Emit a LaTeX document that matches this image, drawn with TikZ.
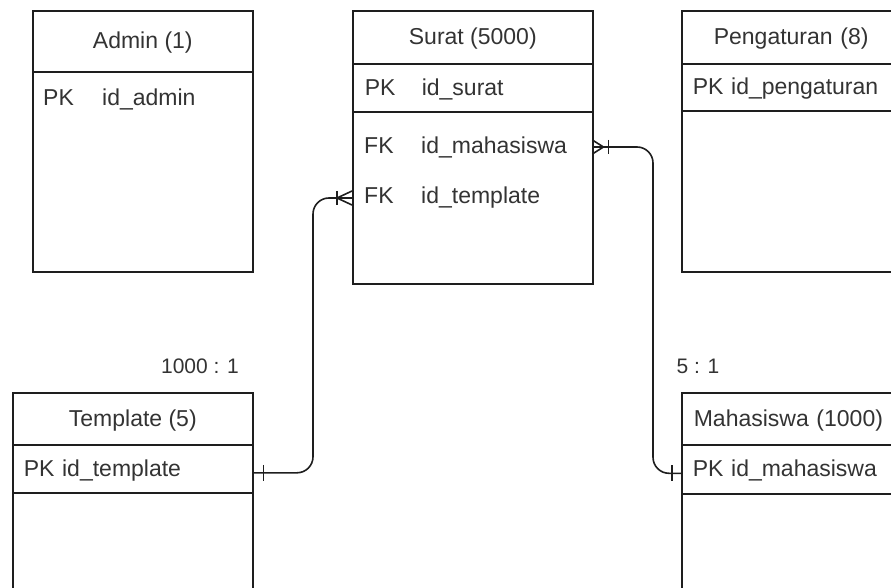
\documentclass[tikz,border=0pt]{standalone}
\usepackage{fontspec}
\setmainfont{Liberation Sans}
\definecolor{edgegray}{HTML}{1E1E1E}
\definecolor{textgray}{HTML}{333333}

\tikzstyle{tblbox}=[draw=edgegray, line width=1.6pt, anchor=north west, inner sep=0pt]
\tikzstyle{tblhead}=[tblbox, text=textgray, text depth=2pt]
\tikzstyle{tblkey}=[tblbox, align=left, text=textgray, text depth=2pt]
\tikzstyle{tblrow}=[anchor=west, inner ysep=0pt, align=left, text=textgray]
\tikzstyle{card}=[text=textgray, font=\fontsize{21}{25}\selectfont]
\tikzstyle{rel}=[line width=1.6pt, edgegray, rounded corners=16pt]
\tikzstyle{ermark}=[line width=1.6pt, edgegray]

\begin{document}
\begin{tikzpicture}[x=1pt, y=-1pt, font=\fontsize{23}{27}\selectfont]
      \clip (0,0) rectangle (891,588);

      % Admin
      \node[tblbox, minimum width=220pt, minimum height=261pt] (admin) at (32,10) {};
      \node[tblhead, minimum width=220pt, minimum height=61pt] (adminhd) at (32,10) {Admin (1)};
      \node[tblrow, text width=198pt, inner xsep=11pt] (adminpk) at (32,99) {\makebox[59pt][l]{PK}id\_admin};

      % Surat
      \node[tblbox, minimum width=240pt, minimum height=273pt] (srt) at (352,10) {};
      \node[tblhead, minimum width=240pt, minimum height=53pt] (srthd) at (352,10) {Surat (5000)};
      \node[tblkey, text width=216pt, inner xsep=12pt, minimum height=48pt] (srtpk) at (352,63) {\makebox[57pt][l]{PK}id\_surat};
      \node[tblrow, text width=216pt, inner xsep=12pt] (srtfkm) at (352,147) {\makebox[57pt][l]{FK}id\_mahasiswa};
      \node[tblrow, text width=216pt, inner xsep=12pt] (srtfkt) at (352,198) {\makebox[57pt][l]{FK}id\_template};

      % Pengaturan
      \node[tblbox, minimum width=230pt, minimum height=261pt] (pgt) at (681,10) {};
      \node[tblhead, align=left, text width=166pt, inner xsep=32pt, minimum height=53pt] (pgthd) at (681,10) {Pengaturan (8)};
      \node[tblkey, text width=208pt, inner xsep=11pt, minimum height=47pt] (pgtpk) at (681,63) {PK id\_pengaturan};

      % Template
      \node[tblbox, minimum width=240pt, minimum height=220pt] (tpl) at (12,392) {};
      \node[tblhead, minimum width=240pt, minimum height=52pt] (tplhd) at (12,392) {Template (5)};
      \node[tblkey, text width=218pt, inner xsep=11pt, minimum height=48pt] (tplpk) at (12,444) {PK id\_template};

      % Mahasiswa
      \node[tblbox, minimum width=230pt, minimum height=220pt] (mhs) at (681,392) {};
      \node[tblhead, align=left, text width=206pt, inner xsep=12pt, minimum height=52pt] (mhshd) at (681,392) {Mahasiswa (1000)};
      \node[tblkey, text width=208pt, inner xsep=11pt, minimum height=49pt] (mhspk) at (681,444) {PK id\_mahasiswa};

      % ratios
      \node[card] (tplcard) at (200,366) {1000 : 1};
      \node[card] (mhscard) at (698,366) {5 : 1};

      % relations
      \coordinate (tplbend) at (313,330);
      \coordinate (mhsbend) at (653,300);
      \draw[rel] ([yshift=-4pt]tplpk.east) -| (tplbend) |- (srtfkt.west);
      \draw[rel] ([yshift=-4pt]mhspk.west) -| (mhsbend) |- (srtfkm.east);

      % one
      \draw[ermark] ([xshift=10pt,yshift=4pt]tplpk.east) -- ([xshift=10pt,yshift=-12pt]tplpk.east);
      \draw[ermark] ([xshift=-9pt,yshift=4pt]mhspk.west) -- ([xshift=-9pt,yshift=-12pt]mhspk.west);
      % one or many
      \draw[ermark] ([yshift=7pt]srtfkt.west) -- ([xshift=-15pt]srtfkt.west) -- ([yshift=-7pt]srtfkt.west);
      \draw[ermark] ([xshift=-15pt,yshift=7pt]srtfkt.west) -- ([xshift=-15pt,yshift=-7pt]srtfkt.west);
      \draw[ermark] ([yshift=7pt]srtfkm.east) -- ([xshift=11pt]srtfkm.east) -- ([yshift=-7pt]srtfkm.east);
      \draw[ermark] ([xshift=16pt,yshift=7pt]srtfkm.east) -- ([xshift=16pt,yshift=-7pt]srtfkm.east);
    \end{tikzpicture}
\end{document}
